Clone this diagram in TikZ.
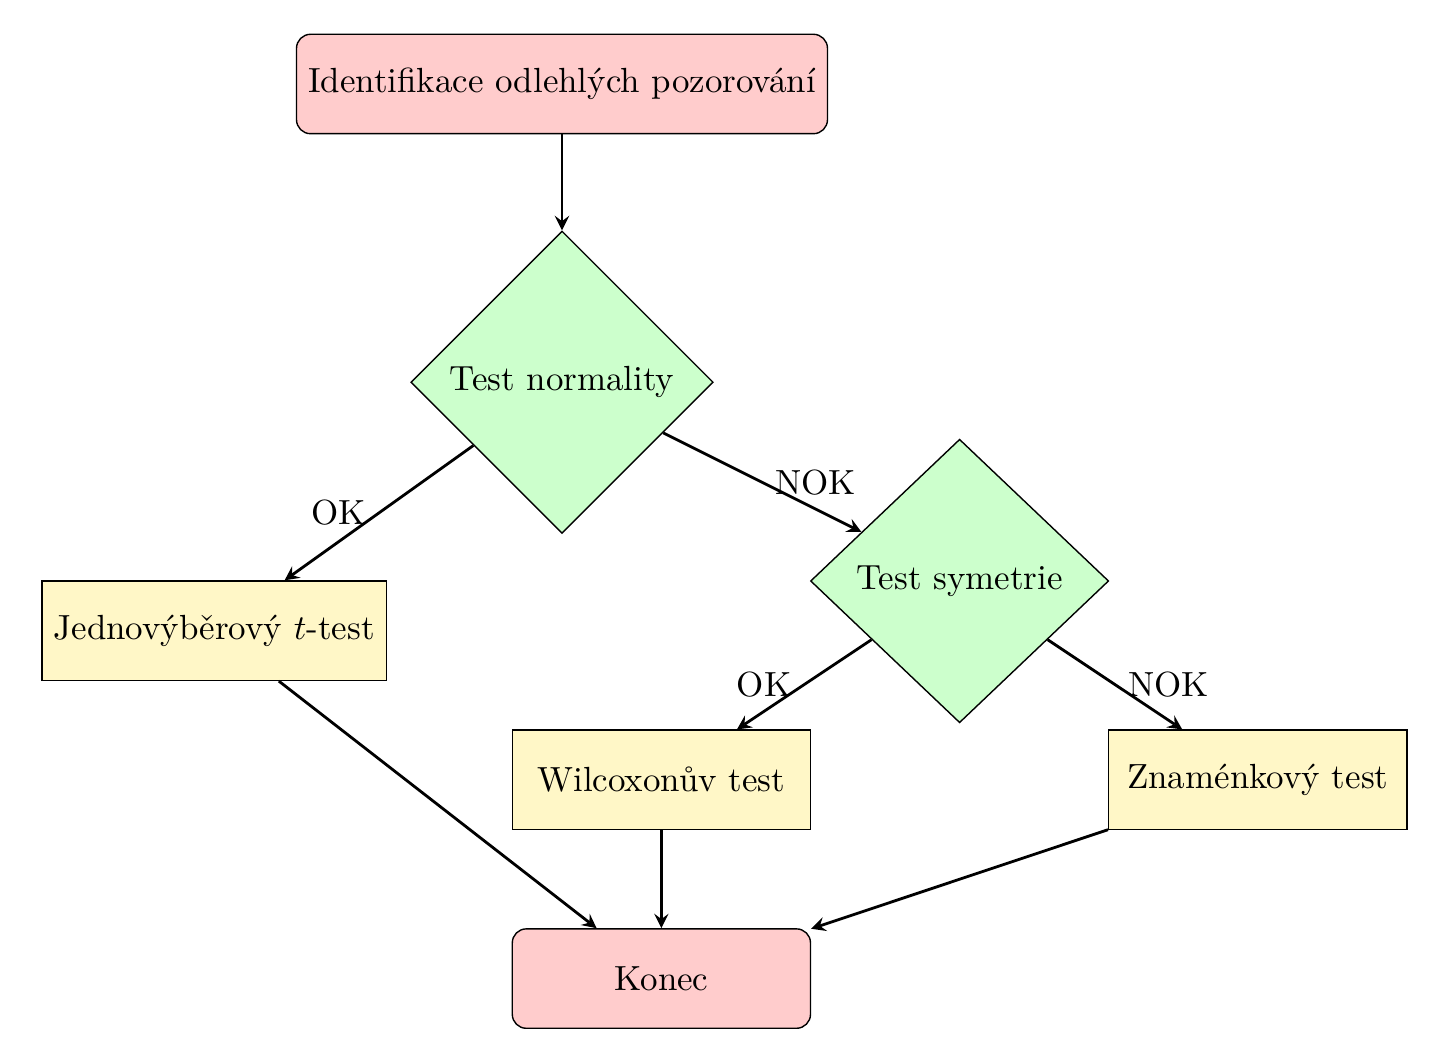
\documentclass[tikz,border=0pt]{standalone}
\usepackage{fontspec}
\usepackage{amsmath}
\usepackage{tikz}
\usetikzlibrary{shapes.geometric,arrows}
\definecolor{procfill}{RGB}{255,247,199}

\begin{document}
\begin{tikzpicture}[
	startstop/.style={rectangle, rounded corners, minimum width=3cm, minimum height=1cm, text centered, draw=black, fill=red!20},
	decision/.style={diamond, minimum width=3cm, minimum height=1cm, text centered, draw=black, fill=green!20},
	process/.style={rectangle, minimum width=3cm, minimum height=1cm, text centered, draw=black, fill=procfill},
	arrow/.style={thick,->,>=stealth}]
	\useasboundingbox (-5.654,0.845) rectangle (8.954,-9.859);

	\node [startstop] (outliers) at (0,0) {Identifikace odlehlých pozorování};
	\node [decision] (normality) at (0,-3) {Test normality};
	\node [process] (ttest) at (-3.5,-5.5) {Jednovýběrový $t$-test};
	\node [decision] (symmetry) at (4,-5) {Test symetrie};
	\node [process] (wilcoxon) at (1,-7) {Wilcoxonův test};
	\node [process] (signtest) at (7,-7) {Znaménkový test};
	\node [startstop] (stop) at (1,-9) {Konec};

	\draw [arrow] (outliers) -- (normality);
	\draw [arrow] (normality) -- node[left] {OK} (ttest);
	\draw [arrow] (normality) -- node[right] {NOK} (symmetry);
	\draw [arrow] (symmetry) -- node[left] {OK} (wilcoxon);
	\draw [arrow] (symmetry) -- node[right] {NOK} (signtest);
	\draw [arrow] (ttest) -- (stop);
	\draw [arrow] (wilcoxon) -- (stop);
	\draw [arrow] (signtest) -- (stop);

\end{tikzpicture}
\end{document}
